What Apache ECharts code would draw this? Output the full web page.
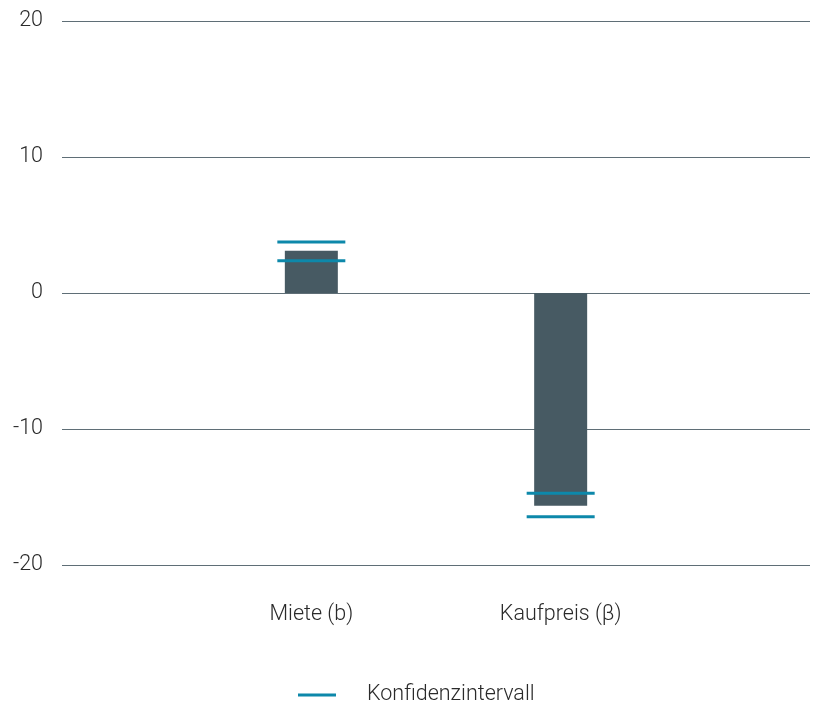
<!DOCTYPE html>
<html>
<head>
<meta charset="utf-8">
<script src="https://cdn.jsdelivr.net/npm/echarts@6/dist/echarts.min.js"></script>
<style>html,body{margin:0;padding:0;background:#fff}#c{width:813px;height:702px}</style>
</head>
<body>
<div id="c"></div>
<script>
const categories = ['', 'Miete (b)', 'Kaufpreis (β)', ''];
const barValues = [null, 3.1, -15.65, null];
const ciUpper = [null, 3.75, -14.72, null];
const ciLower = [null, 2.38, -16.45, null];
const yTicks = [-20, -10, 0, 10, 20];

const chart = echarts.init(document.getElementById('c'));
const font = 'Roboto, sans-serif';
const txt = { fontFamily: font, fontSize: 21.5, fontWeight: 300, color: '#2a2a2a' };
chart.setOption({
  animation: false,
  grid: { left: 62, right: 0, top: 21, bottom: 137, containLabel: false },
  legend: {
    data: [{ name: 'Konfidenzintervall', icon: 'rect' }],
    top: 679,
    left: 293,
    itemWidth: 38,
    itemHeight: 3,
    textStyle: Object.assign({}, txt, { padding: [0, 0, 0, 26] })
  },
  xAxis: {
    type: 'category',
    data: categories,
    boundaryGap: false,
    axisLine: { show: false },
    axisTick: { show: false },
    axisLabel: Object.assign({}, txt, { margin: 39, interval: 0 }),
    splitLine: { show: false }
  },
  yAxis: {
    type: 'value',
    min: yTicks[0],
    max: yTicks[yTicks.length - 1],
    interval: 10,
    axisLine: { show: false },
    axisTick: { show: false },
    axisLabel: Object.assign({}, txt, { margin: 19, padding: [4, 0, 0, 0] }),
    splitLine: { lineStyle: { color: '#5f6e76', width: 1 } }
  },
  series: [
    {
      type: 'bar',
      name: 'Wert',
      data: barValues,
      barWidth: 53,
      itemStyle: { color: '#475a63' },
      z: 2
    },
    {
      type: 'scatter',
      name: 'Konfidenzintervall',
      data: ciUpper.map((v, i) => [i, v]).filter(d => d[1] !== null),
      symbol: 'rect',
      symbolSize: [68, 3],
      itemStyle: { color: '#0d88aa', opacity: 1 },
      z: 5
    },
    {
      type: 'scatter',
      name: 'Konfidenzintervall',
      data: ciLower.map((v, i) => [i, v]).filter(d => d[1] !== null),
      symbol: 'rect',
      symbolSize: [68, 3],
      itemStyle: { color: '#0d88aa', opacity: 1 },
      z: 5
    }
  ]
});
</script>
</body>
</html>
